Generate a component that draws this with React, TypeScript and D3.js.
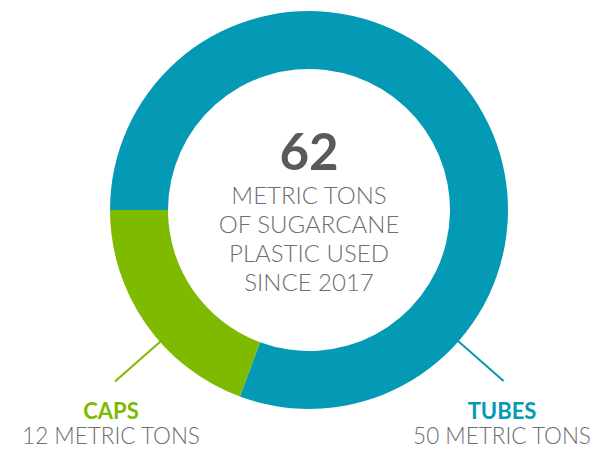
import * as d3 from "d3";

const categories = ["TUBES", "CAPS"];
const values = [50, 12];
const colors = ["#0499b4", "#7dba00"];
const totalLabel = "62";
const centerLines = ["METRIC TONS", "OF SUGARCANE", "PLASTIC USED", "SINCE 2017"];
const subLabels = ["50 METRIC TONS", "12 METRIC TONS"];

const W = 595;
const H = 449;
const cx = 309;
const cy = 210;
const outerR = 199;
const innerR = 141;

export default function App() {
  const pie = d3
    .pie<number>()
    .value((d) => d)
    .sort(null)
    .startAngle(-Math.PI / 2)
    .endAngle((3 * Math.PI) / 2);
  const arcs = pie(values);
  const arc = d3.arc<d3.PieArcDatum<number>>().innerRadius(innerR).outerRadius(outerR);

  // leader lines + label anchors
  const leaderAngles = [(131.3 * Math.PI) / 180, (228.5 * Math.PI) / 180];
  const labelX = [502, 111];
  const pt = (a: number, r: number) => [Math.sin(a) * r, -Math.cos(a) * r];

  return (
    <svg width={W} height={H} style={{ position: "absolute", left: 0, top: 0 }}>
      <g transform={`translate(${cx},${cy})`}>
        {arcs.map((a, i) => (
          <path key={categories[i]} d={arc(a) || ""} fill={colors[i]} />
        ))}
        {leaderAngles.map((a, i) => {
          const [x1, y1] = pt(a, outerR - 1);
          const [x2, y2] = pt(a, 259);
          return <line key={i} x1={x1} y1={y1} x2={x2} y2={y2} stroke={colors[i]} strokeWidth={2} />;
        })}
      </g>
      <text x={cx} y={170} textAnchor="middle" fontFamily="Lato" fontWeight={700} fontSize={51} fill="#595a5e">
        {totalLabel}
      </text>
      {centerLines.map((t, i) => (
        <text key={t} x={cx} y={204 + i * 29} textAnchor="middle" fontFamily="Lato" fontWeight={300} fontSize={24} fill="#6d6e71">
          {t}
        </text>
      ))}
      {categories.map((c, i) => (
        <g key={c}>
          <text x={labelX[i]} y={419} textAnchor="middle" fontFamily="Lato" fontWeight={700} fontSize={22} fill={colors[i]}>
            {c}
          </text>
          <text x={labelX[i]} y={444} textAnchor="middle" fontFamily="Lato" fontWeight={300} fontSize={22.5} fill="#6d6e71">
            {subLabels[i]}
          </text>
        </g>
      ))}
    </svg>
  );
}
